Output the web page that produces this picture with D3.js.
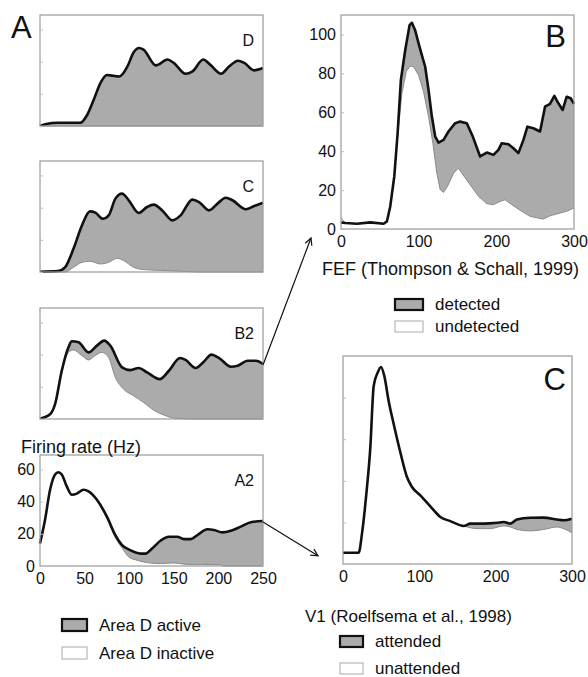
<!DOCTYPE html>
<html>
<head>
<meta charset="utf-8">
<script src="https://cdn.jsdelivr.net/npm/d3@7"></script>
<style>
  body { margin: 0; background: #fff; }
  text { font-family: "Liberation Sans", Arial, sans-serif; fill: #111; }
</style>
</head>
<body>
<svg id="fig"></svg>
<script>
// set up constants
const width = 588;
const height = 677;
const fillGray = '#ababab';
const frameGray = '#9a9a9a';

// ---- data: [time ms, firing rate] ----
const dActive = [[0,0],[7,1.2],[20,2],[45,2],[53,7],[60,16],[68,27],[75,31.7],[81,31.3],[89,30.8],[98,37],[105,45.8],[111,48.5],[116,47.5],[130,37.7],[143,41.3],[150,39.2],[163,32.5],[171,34],[183,41.3],[191,38],[203,32.5],[212,37],[222,40.6],[229,39.2],[240,34.6],[250,36]];
const dInactive = [[0,0],[250,0]];

const cActive = [[0,0.2],[20,0.6],[28,2.9],[37.5,14.4],[47,28.9],[56,37.7],[62,36.9],[70.5,33.1],[77,35.2],[84.5,45.6],[92,48.7],[99.5,44.6],[110.7,36.7],[120,40.4],[127.6,41.9],[137,38.3],[148.3,32.1],[157.6,35.2],[170.8,45],[178.3,43.5],[189.5,38.3],[199,42.5],[208.3,46.2],[215.8,44.6],[230.8,39],[240.2,41],[250,43]];
const cInactive = [[0,0],[28,0],[37.5,2.9],[47,6],[56,6.7],[67.6,5],[77,6],[86.3,8.5],[93.8,7.1],[105,2.9],[116,1.5],[135,1],[165,0.3],[180,0],[250,0]];

const b2Active = [[0,0.2],[11.3,2.9],[16.9,9.2],[24.4,30],[31.9,44.6],[35.7,48.3],[43.2,47.7],[54.4,41.4],[63.8,45.6],[72,48.7],[78.8,45.6],[92,32.1],[101.3,30.4],[110.7,31.7],[120,29],[134.3,24.8],[144.5,30],[156.9,37.9],[163.3,36.7],[174.5,31.7],[183.9,35.8],[192.2,40],[200.8,37.9],[214,32.5],[221.5,33.1],[232.7,36.2],[242,36.2],[250,34.2]];
const b2Inactive = [[0,0.2],[11.3,2.9],[16.9,9],[24.4,29],[31.9,41.4],[37.5,42.9],[46.9,39.4],[54.4,36.7],[61.9,39.4],[69.4,41.4],[76.9,38.3],[84.5,25.8],[93.8,18.5],[105,14.4],[116.3,10.2],[127.6,5.4],[138.8,2.5],[150,0.6],[172,0],[250,0]];

const a2Active = [[0,14],[5.6,28.6],[11.3,47.4],[16.9,56.9],[20.6,58.3],[24.4,56.9],[30,49.5],[35.7,44.3],[41.3,45],[48.8,47.4],[54.4,46.4],[63.8,41.2],[75,30.7],[84.5,19.2],[92,13],[101.3,9.8],[112.6,7.7],[118.2,7.7],[125.7,10.9],[135,15.7],[144.5,18.2],[153.9,18.2],[161.4,16.7],[168.9,16.7],[176.4,19.2],[187.7,22.8],[195.1,22.4],[204.5,20.9],[213.9,21.9],[225.2,24.5],[236.4,27.2],[250,28]];
const a2Inactive = [[0,14],[5.6,28.6],[11.3,47.4],[16.9,56.9],[20.6,58.3],[24.4,56.9],[30,49.5],[35.7,44.3],[41.3,45],[48.8,47.4],[54.4,46],[63.8,40.5],[75,29.5],[84.5,17.5],[93.8,9.8],[99.5,5.6],[108.8,3.6],[120,2.1],[135,1.5],[150,1.9],[165,1],[180,1],[202.7,0.8],[206,0],[250,0]];

const fefDetected = [[0,3.4],[5.6,3.1],[20.6,2.7],[37.7,3.4],[54.9,2.7],[59.1,3.9],[63.4,11.6],[68.6,27],[72.9,49.2],[77.1,76.6],[82.7,92],[88.3,104.8],[91.3,106],[95.6,102],[99.9,95.4],[104.1,89.4],[108.4,83.4],[112.7,71.5],[117,57.8],[121.3,47.5],[125.6,44.4],[132,45.8],[138.4,50.1],[147,54.4],[153.4,55.2],[162,54.4],[169.7,47.5],[179.1,37.3],[187.7,39.3],[196.3,38.1],[202.7,40.7],[207,44.1],[215.6,43.6],[222,41.5],[228.4,39],[234.9,45.8],[240,52.6],[247.7,51.8],[256.3,50.1],[262.7,62.9],[269.1,64.3],[274.7,68.4],[279.9,64.6],[285.4,61.2],[290.6,68],[295.7,67.2],[300,64.3]];
const fefUndetected = [[0,6],[5,3],[20.6,2.7],[37.7,3.2],[54.9,2.6],[59.1,3.6],[63.4,11],[68.6,26],[72.9,47.5],[78.4,69.7],[84,80.9],[89.1,83.8],[93.4,83.4],[99.9,79.1],[106.3,70.6],[112.7,57.8],[118.3,44.1],[123.4,28.7],[127.7,20.2],[132,18.8],[137.1,21.9],[144.9,28.7],[151.3,31.3],[155.6,28.7],[166.3,22.7],[177,16.8],[187.7,13],[196.3,12.5],[204.9,14.2],[211.3,15],[219.9,12.5],[230.6,9.6],[243.4,6.5],[254.1,5.6],[260.6,5.1],[269.1,6.8],[282,8.2],[290.6,9.1],[300,10.8]];

const v1Attended = [[0,5.4],[20.5,5.4],[24.9,14.7],[30.6,33.8],[35.8,56.1],[40.2,85.6],[45.4,92],[49.8,94.7],[54.1,90.4],[59.8,78.4],[66.4,67.3],[75.1,53.7],[83.8,41.8],[90.4,37],[101.3,33],[114.4,27.7],[127.5,22.6],[140.6,20.6],[158.1,18.3],[166.8,19.4],[184.3,19.4],[201.7,19.8],[210.5,20.2],[219.2,19.4],[227.9,21.4],[245.4,22.2],[262.9,22.3],[280.3,21.4],[289,21],[300,21.8]];
const v1Unattended = [[0,5.4],[20.5,5.4],[24.9,14.7],[30.6,33.8],[35.8,56.1],[40.2,85.6],[45.4,92],[49.8,94.7],[54.1,90.4],[59.8,78.4],[66.4,67.3],[75.1,53.7],[83.8,41.8],[90.4,37],[101.3,33],[114.4,27.7],[127.5,22.6],[140.6,20.6],[158.1,18.3],[175.5,17],[193,17],[210.5,18.3],[219.2,17.8],[227.9,16.6],[245.4,15.9],[262.9,16.6],[280.3,17.8],[289,17],[300,15]];

const aTicks = [0, 20, 40, 60];
const aTimeTicks = [0, 50, 100, 150, 200, 250];
const bTicks = [0, 20, 40, 60, 80, 100];
const vTicks = [0, 20, 40, 60, 80];
const rightTimeTicks = [0, 100, 200, 300];

const svg = d3.select('#fig')
  .attr('width', width)
  .attr('height', height);

function drawPanel(p) {
  const x = d3.scaleLinear().domain(p.xDomain).range([p.left, p.right]);
  const y = d3.scaleLinear().domain(p.yDomain).range([p.bottom, p.top]);
  const g = svg.append('g');
  const curve = p.curve || d3.curveMonotoneX;

  const area = d3.area().x(d => x(d[0])).y0(y(0)).y1(d => y(d[1])).curve(curve);
  const line = d3.line().x(d => x(d[0])).y(d => y(d[1])).curve(curve);

  g.append('path').datum(p.active).attr('d', area).attr('fill', fillGray);
  g.append('path').datum(p.inactive).attr('d', area).attr('fill', '#fff');
  g.append('path').datum(p.inactive).attr('d', line)
    .attr('fill', 'none').attr('stroke', '#8a8a8a').attr('stroke-width', 1);
  g.append('path').datum(p.active).attr('d', line)
    .attr('fill', 'none').attr('stroke', '#111').attr('stroke-width', 2.6)
    .attr('stroke-linejoin', 'round');

  // frame
  g.append('rect')
    .attr('x', p.left).attr('y', p.top)
    .attr('width', p.right - p.left).attr('height', p.bottom - p.top)
    .attr('fill', 'none').attr('stroke', frameGray).attr('stroke-width', 1.2);

  // y axis: small inward ticks, labels optional
  const yAxis = d3.axisLeft(y).tickValues(p.yTicks).tickSizeInner(-3).tickSizeOuter(0)
    .tickPadding(5).tickFormat(p.yLabels ? d3.format('d') : '');
  const ya = g.append('g').attr('transform', `translate(${p.left},0)`).call(yAxis);
  ya.select('.domain').remove();
  ya.selectAll('line').attr('stroke', '#bbb');
  ya.selectAll('text').attr('font-size', 16).attr('font-family', '"Liberation Sans", Arial, sans-serif').attr('fill', '#111');

  if (p.xTicks) {
    const xAxis = d3.axisBottom(x).tickValues(p.xTicks).tickSize(0).tickPadding(7);
    const xa = g.append('g').attr('transform', `translate(0,${p.bottom})`).call(xAxis);
    xa.select('.domain').remove();
    xa.selectAll('text').attr('font-size', 16).attr('font-family', '"Liberation Sans", Arial, sans-serif').attr('fill', '#111');
  }

  if (p.label) {
    g.append('text').attr('x', p.right - 9).attr('y', p.top + 31)
      .attr('text-anchor', 'end').attr('font-size', p.labelSize || 16).text(p.label);
  }
  return { x, y };
}

// panel A column
const aTops = [15, 161, 308, 455];
const aSpecs = [
  { label: 'D', active: dActive, inactive: dInactive },
  { label: 'C', active: cActive, inactive: cInactive },
  { label: 'B2', active: b2Active, inactive: b2Inactive },
  { label: 'A2', active: a2Active, inactive: a2Inactive, yLabels: true, xTicks: aTimeTicks }
];
const aScales = aSpecs.map((s, i) => drawPanel(Object.assign({
  left: 40, right: 263, top: aTops[i], bottom: aTops[i] + 111,
  xDomain: [0, 250], yDomain: [0, 69], yTicks: aTicks
}, s)));

// panel B (FEF)
const bScale = drawPanel({
  left: 341, right: 574, top: 15, bottom: 229,
  xDomain: [0, 300], yDomain: [0, 110], yTicks: bTicks, yLabels: true,
  xTicks: rightTimeTicks, active: fefDetected, inactive: fefUndetected,
  curve: d3.curveLinear
});

// panel C (V1)
const cScale = drawPanel({
  left: 343, right: 572, top: 356, bottom: 564,
  xDomain: [0, 300], yDomain: [0, 100], yTicks: vTicks,
  xTicks: rightTimeTicks, active: v1Attended, inactive: v1Unattended
});

// big panel letters
svg.append('text').attr('x', 11).attr('y', 38).attr('font-size', 31).text('A');
svg.append('text').attr('x', 566).attr('y', 47).attr('text-anchor', 'end').attr('font-size', 31).text('B');
svg.append('text').attr('x', 566).attr('y', 390).attr('text-anchor', 'end').attr('font-size', 31).text('C');

svg.append('text').attr('x', 21).attr('y', 453).attr('font-size', 18).text('Firing rate (Hz)');

// arrows from A panels to B and C
svg.append('defs').append('marker')
  .attr('id', 'head').attr('viewBox', '-8 -5 10 10')
  .attr('refX', 0).attr('refY', 0)
  .attr('markerWidth', 10).attr('markerHeight', 10)
  .attr('markerUnits', 'userSpaceOnUse').attr('orient', 'auto')
  .append('path').attr('d', 'M-7,-3.5L0,0L-7,3.5')
  .attr('fill', 'none').attr('stroke', '#111').attr('stroke-width', 1.2);

const b2Last = b2Active[b2Active.length - 1];
const a2Last = a2Active[a2Active.length - 1];
svg.append('line')
  .attr('x1', aScales[2].x(b2Last[0])).attr('y1', aScales[2].y(b2Last[1]) + 1)
  .attr('x2', bScale.x(0) - 30).attr('y2', bScale.y(0) + 9)
  .attr('stroke', '#111').attr('stroke-width', 1.2).attr('marker-end', 'url(#head)');
svg.append('line')
  .attr('x1', aScales[3].x(a2Last[0])).attr('y1', aScales[3].y(a2Last[1]) + 1)
  .attr('x2', cScale.x(0) - 25).attr('y2', cScale.y(5.4) + 3)
  .attr('stroke', '#111').attr('stroke-width', 1.2).attr('marker-end', 'url(#head)');

// legends
function legendItem(x, y, w, h, filled, label) {
  svg.append('rect').attr('x', x).attr('y', y).attr('width', w).attr('height', h)
    .attr('fill', filled ? fillGray : '#fff')
    .attr('stroke', filled ? '#111' : '#aaa').attr('stroke-width', filled ? 2.2 : 1);
  svg.append('text').attr('x', x + w + 12).attr('y', y + h).attr('font-size', 17).text(label);
}

svg.append('text').attr('x', 322).attr('y', 275).attr('font-size', 18).text('FEF (Thompson & Schall, 1999)');
legendItem(395, 299, 28, 11, true, 'detected');
legendItem(395, 321, 28, 11, false, 'undetected');

legendItem(62, 619, 25, 12, true, 'Area D active');
legendItem(62, 647, 25, 12, false, 'Area D inactive');

svg.append('text').attr('x', 305).attr('y', 622).attr('font-size', 17).text('V1 (Roelfsema et al., 1998)');
legendItem(340, 636, 23, 11, true, 'attended');
legendItem(340, 663, 23, 11, false, 'unattended');
</script>
</body>
</html>
